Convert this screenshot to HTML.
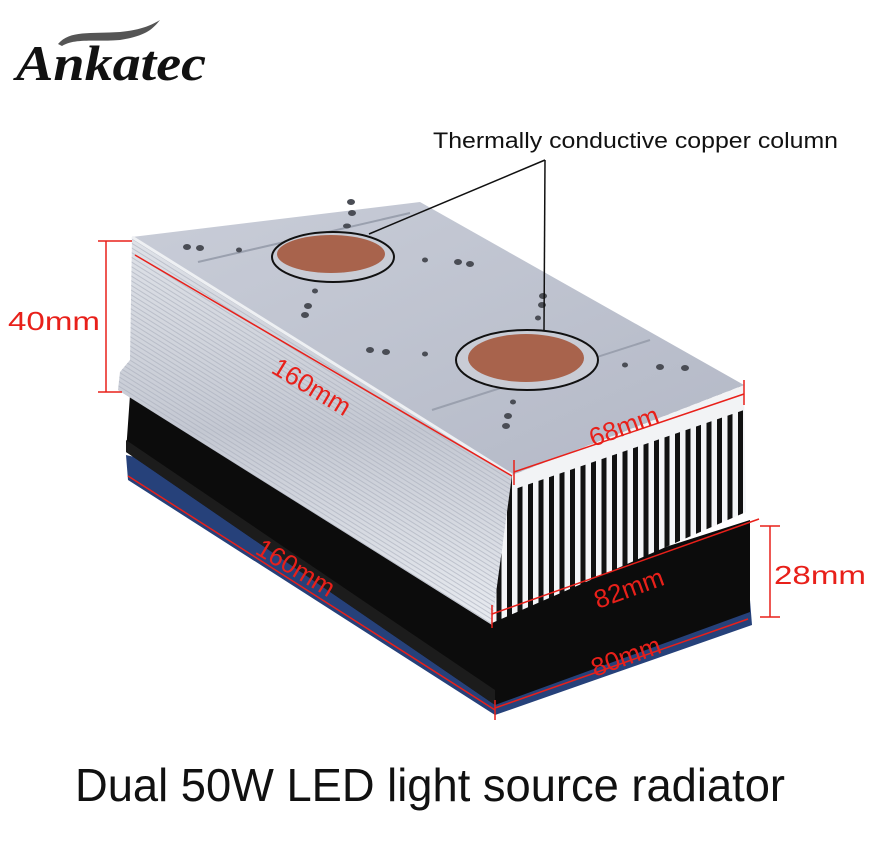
<!DOCTYPE html>
<html><head><meta charset="utf-8"><style>
html,body{margin:0;padding:0;background:#fff;width:881px;height:859px;overflow:hidden}
</style></head><body>
<svg width="881" height="859" viewBox="0 0 881 859" xmlns="http://www.w3.org/2000/svg">
<defs>
<linearGradient id="top" x1="0" y1="0" x2="1" y2="1">
<stop offset="0" stop-color="#c9cdd8"/><stop offset="1" stop-color="#b3b8c6"/></linearGradient>
<linearGradient id="side" x1="0" y1="0" x2="0" y2="1">
<stop offset="0" stop-color="#dfe2e8"/><stop offset="0.5" stop-color="#c4c8d2"/><stop offset="1" stop-color="#e8ebf0"/></linearGradient>
<pattern id="fins" width="10.5" height="200" patternUnits="userSpaceOnUse">
<rect width="10.5" height="200" fill="#f4f5f7"/><rect x="3" width="5" height="200" fill="#111"/></pattern>
<pattern id="hl" width="10" height="4" patternUnits="userSpaceOnUse" patternTransform="rotate(32)">
<rect width="10" height="1" fill="#a9aebb" opacity="0.6"/></pattern>
</defs>

<!-- logo -->
<path d="M58 44 C70 30 90 34 120 32 C140 30 150 26 160 20 C152 30 145 36 120 40 C95 42 75 38 62 46 Z" fill="#555"/>
<text x="16" y="80" font-family="Liberation Serif, serif" font-style="italic" font-weight="bold" font-size="50" fill="#111" textLength="190" lengthAdjust="spacingAndGlyphs">Ankatec</text>

<!-- fan / base -->
<polygon points="128,480 495,715 752,625 750,600 126,455" fill="#26417a"/>
<polygon points="126,452 495,705 750,612 750,520 500,600 130,395" fill="#0c0c0c"/>
<polygon points="126,452 495,705 495,690 126,440" fill="#1c1c1c"/>

<!-- heatsink left side -->
<polygon points="132,237 512,475 492,625 118,390 120,372 130,360" fill="url(#side)"/>
<polygon points="132,237 512,475 492,625 118,390 120,372 130,360" fill="url(#hl)"/>
<!-- front face -->
<polygon points="512,475 744,385 746,512 492,623" fill="url(#fins)"/>
<polygon points="512,475 744,385 744,410 512,490" fill="#f2f3f5"/>
<!-- top face -->
<polygon points="132,237 420,202 744,385 512,475" fill="url(#top)"/>
<line x1="132" y1="237" x2="512" y2="475" stroke="#eef0f3" stroke-width="3"/>
<line x1="198" y1="262" x2="410" y2="213" stroke="#9aa0ae" stroke-width="2"/>
<line x1="432" y1="410" x2="650" y2="340" stroke="#9aa0ae" stroke-width="2"/>
<g fill="#4a4d55">
<ellipse cx="351" cy="202" rx="4" ry="3"/><ellipse cx="352" cy="213" rx="4" ry="3"/><ellipse cx="347" cy="226" rx="4" ry="2.5"/>
<ellipse cx="187" cy="247" rx="4" ry="3"/><ellipse cx="200" cy="248" rx="4" ry="3"/><ellipse cx="239" cy="250" rx="3" ry="2.5"/>
<ellipse cx="425" cy="260" rx="3" ry="2.5"/><ellipse cx="458" cy="262" rx="4" ry="3"/><ellipse cx="470" cy="264" rx="4" ry="3"/>
<ellipse cx="315" cy="291" rx="3" ry="2.5"/><ellipse cx="308" cy="306" rx="4" ry="3"/><ellipse cx="305" cy="315" rx="4" ry="3"/>
<ellipse cx="543" cy="296" rx="4" ry="3"/><ellipse cx="542" cy="305" rx="4" ry="3"/><ellipse cx="538" cy="318" rx="3" ry="2.5"/>
<ellipse cx="370" cy="350" rx="4" ry="3"/><ellipse cx="386" cy="352" rx="4" ry="3"/><ellipse cx="425" cy="354" rx="3" ry="2.5"/>
<ellipse cx="625" cy="365" rx="3" ry="2.5"/><ellipse cx="660" cy="367" rx="4" ry="3"/><ellipse cx="685" cy="368" rx="4" ry="3"/>
<ellipse cx="513" cy="402" rx="3" ry="2.5"/><ellipse cx="508" cy="416" rx="4" ry="3"/><ellipse cx="506" cy="426" rx="4" ry="3"/>
</g>
<ellipse cx="333" cy="257" rx="61" ry="25" fill="#c9ccd5" stroke="#111" stroke-width="2"/>
<ellipse cx="331" cy="254" rx="54" ry="19" fill="#a8634c"/>
<ellipse cx="527" cy="360" rx="71" ry="30" fill="#c9ccd5" stroke="#111" stroke-width="2"/>
<ellipse cx="526" cy="358" rx="58" ry="24" fill="#a8634c"/>

<!-- callout -->
<text x="433" y="148" font-family="Liberation Sans, sans-serif" font-size="22" fill="#111" textLength="405" lengthAdjust="spacingAndGlyphs">Thermally conductive copper column</text>
<line x1="545" y1="160" x2="369" y2="234" stroke="#111" stroke-width="1.5"/>
<line x1="545" y1="160" x2="544" y2="330" stroke="#111" stroke-width="1.5"/>

<!-- dimensions -->
<g stroke="#e8201a" stroke-width="1.5" fill="none">
<line x1="106" y1="241" x2="106" y2="392"/><line x1="98" y1="241" x2="132" y2="241"/><line x1="98" y1="392" x2="122" y2="392"/>
<line x1="135" y1="255" x2="512" y2="476"/>
<line x1="514" y1="472" x2="744" y2="394"/><line x1="514" y1="460" x2="514" y2="485"/><line x1="744" y1="380" x2="744" y2="405"/>
<line x1="128" y1="476" x2="495" y2="710"/>
<line x1="492" y1="614" x2="759" y2="519"/><line x1="492" y1="605" x2="492" y2="628"/>
<line x1="495" y1="708" x2="748" y2="619"/><line x1="495" y1="700" x2="495" y2="720"/>
<line x1="770" y1="526" x2="770" y2="617"/><line x1="760" y1="526" x2="780" y2="526"/><line x1="760" y1="617" x2="780" y2="617"/>
</g>
<g font-family="Liberation Sans, sans-serif" font-size="26" fill="#e8201a">
<text x="8" y="330" textLength="92" lengthAdjust="spacingAndGlyphs">40mm</text>
<text transform="translate(270,372) rotate(31)">160mm</text>
<text transform="translate(593,447) rotate(-20)">68mm</text>
<text transform="translate(254,553) rotate(31)">160mm</text>
<text transform="translate(598,609) rotate(-20)">82mm</text>
<text transform="translate(595,677) rotate(-20)">80mm</text>
<text x="774" y="584" textLength="92" lengthAdjust="spacingAndGlyphs">28mm</text>
</g>

<text x="75" y="801" font-family="Liberation Sans, sans-serif" font-size="46" fill="#111" textLength="710" lengthAdjust="spacingAndGlyphs">Dual 50W LED light source radiator</text>
</svg>
</body></html>
